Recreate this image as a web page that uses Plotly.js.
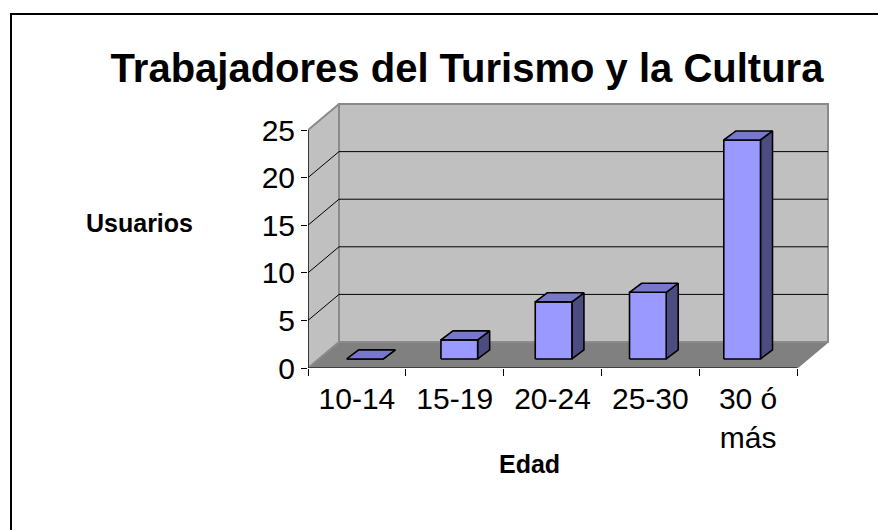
<!DOCTYPE html>
<html>
<head>
<meta charset="utf-8">
<script src="https://cdn.plot.ly/plotly-3.0.1.min.js"></script>
<style>html,body{margin:0;padding:0;background:#fff;}#chart{width:878px;height:530px;}</style>
</head>
<body>
<div id="chart"></div>
<script>
// ---- data ----
const categories = ['10-14', '15-19', '20-24', '25-30', '30 ó<br>más'];
const usuarios = [0, 2, 6, 7, 23];
const yTicks = [0, 5, 10, 15, 20, 25];
const chartTitle = 'Trabajadores del Turismo y la Cultura';
const xTitle = 'Edad';
const yTitle = 'Usuarios';

// ---- 3D look (projection, in axis units) ----
const FONT = 'Arial, "Liberation Sans", sans-serif';
const kx = 0.317, ky = 2.73;      // full depth offset of the walls
const barW = 0.375;               // front face width
const bx = 0.123, by = 0.95;      // bar depth offset
const yBase = 0.95;               // bar front face sits behind the front plane
const barScale = 0.964, barShift = 0.101; // slight perspective of the bar row
const nCat = categories.length;
const yMax = yTicks[yTicks.length - 1];

const traces = [];
function poly(xs, ys, fill, lineColor, lineWidth) {
  traces.push({type: 'scatter', mode: 'lines', x: xs, y: ys, fill: 'toself', fillcolor: fill,
    line: {color: lineColor, width: lineWidth}, hoverinfo: 'skip', showlegend: false});
}
function lines(xs, ys, color, width) {
  traces.push({type: 'scatter', mode: 'lines', x: xs, y: ys, line: {color: color, width: width},
    hoverinfo: 'skip', showlegend: false, connectgaps: false});
}

// floor
poly([0, nCat, nCat + kx, kx, 0], [0, 0, ky, ky, 0], '#808080', '#808080', 1.5);
// back wall
poly([kx, nCat + kx, nCat + kx, kx, kx], [ky, ky, yMax + ky, yMax + ky, ky], '#C0C0C0', '#8a8a8a', 2);
// left wall
poly([0, kx, kx, 0, 0], [0, ky, yMax + ky, yMax, 0], '#C0C0C0', '#8a8a8a', 2);
// gridlines on back & left walls
{
  const gx = [], gy = [];
  yTicks.forEach(v => {
    if (v === 0 || v === yMax) return;
    gx.push(0, kx, nCat + kx, null);
    gy.push(v, v + ky, v + ky, null);
  });
  lines(gx, gy, '#000', 1);
}
// front axes
lines([0, 0, null, 0, nCat], [0, yMax, null, 0, 0], '#000', 1.2);

// bars
{
  const fx = [], fy = [], tx = [], ty = [], sx = [], sy = [];
  usuarios.forEach((v, i) => {
    const c = (i + 0.5) * barScale + barShift, l = c - barW / 2, r = c + barW / 2;
    const b = yBase, t = yBase + v;
    fx.push(l, r, r, l, l, null); fy.push(b, b, t, t, b, null);
    tx.push(l, r, r + bx, l + bx, l, null); ty.push(t, t, t + by, t + by, t, null);
    sx.push(r, r + bx, r + bx, r, r, null); sy.push(b, b + by, t + by, t, b, null);
  });
  poly(sx, sy, '#4C4C80', '#000', 1.6);
  poly(fx, fy, '#9999FF', '#000', 1.6);
  poly(tx, ty, '#7777CC', '#000', 1.6);
}

// ---- layout (pixel geometry) ----
const W = 878, H = 530;
const L = 308, R = 840, T = 100, B = 368;
const pxPerX = 97.8, pxPerY = 9.52;
const px2paperX = p => (p - L) / (R - L);
const px2paperY = p => (B - p) / (B - T);

const layout = {
  width: W, height: H,
  margin: {l: L, r: W - R, t: T, b: H - B, pad: 0},
  paper_bgcolor: '#fff', plot_bgcolor: '#fff',
  showlegend: false,
  title: {text: '<b>' + chartTitle + '</b>', font: {family: FONT, size: 40, color: '#000'},
    xref: 'paper', x: px2paperX(467), xanchor: 'center', yref: 'container', y: 1 - 68 / H, yanchor: 'middle'},
  xaxis: {range: [0, (R - L) / pxPerX], tickvals: categories.map((c, i) => i + 0.5), ticktext: categories,
    ticks: '', showgrid: false, zeroline: false, showline: false, fixedrange: true,
    tickfont: {family: FONT, size: 30, color: '#000'}, ticklabelstandoff: 10,
    minor: {tickvals: categories.map((c, i) => i).concat([nCat]), ticks: 'outside', ticklen: 7, tickwidth: 1, tickcolor: '#000', showgrid: false}},
  yaxis: {range: [0, (B - T) / pxPerY], tickvals: yTicks, ticktext: yTicks.map(String),
    ticks: 'outside', ticklen: 6, tickwidth: 1, tickcolor: '#000', showgrid: false, zeroline: false, showline: false,
    fixedrange: true, tickfont: {family: FONT, size: 30, color: '#000'}, ticklabelstandoff: 0},
  annotations: [
    {text: '<b>' + yTitle + '</b>', xref: 'paper', yref: 'paper', x: px2paperX(139), y: px2paperY(223),
      xanchor: 'center', yanchor: 'middle', showarrow: false, font: {family: FONT, size: 25, color: '#000'}},
    {text: '<b>' + xTitle + '</b>', xref: 'paper', yref: 'paper', x: px2paperX(529), y: px2paperY(464),
      xanchor: 'center', yanchor: 'middle', showarrow: false, font: {family: FONT, size: 25, color: '#000'}}
  ],
  shapes: [
    {type: 'rect', xref: 'paper', yref: 'paper', x0: px2paperX(11), x1: px2paperX(960), y0: px2paperY(600), y1: px2paperY(14),
      line: {color: '#000', width: 2}, fillcolor: 'rgba(0,0,0,0)', layer: 'above'}
  ]
};

Plotly.newPlot('chart', traces, layout, {staticPlot: true, displayModeBar: false});
</script>
</body>
</html>
